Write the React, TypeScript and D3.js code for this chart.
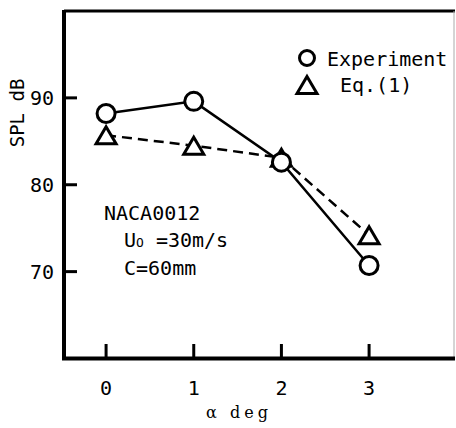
import * as d3 from 'd3'

// angle of attack, deg
const alphas = [0, 1, 2, 3]
// measured SPL, dB
const experiment = [88.2, 89.6, 82.6, 70.7]
// predicted SPL from Eq.(1), dB
const equation = [85.7, 84.5, 83.1, 74.2]
const yTicks = [70, 80, 90]
const xTicks = [0, 1, 2, 3]

const W = 456
const H = 428
const mono = '"DejaVu Sans Mono", monospace'

const App = () => {
  const x = d3.scaleLinear().domain([-0.48, 3.98]).range([64, 455])
  const y = d3.scaleLinear().domain([60, 100]).range([358.5, 11])

  const line = d3.line<[number, number]>()
    .x(d => x(d[0]))
    .y(d => y(d[1]))

  const expPts: [number, number][] = alphas.map((a, i) => [a, experiment[i]])
  const eqPts: [number, number][] = alphas.map((a, i) => [a, equation[i]])

  const tri = (cx: number, cy: number) =>
    `M${cx},${cy - 8.5}L${cx + 10},${cy + 8.5}L${cx - 10},${cy + 8.5}Z`

  return (
    <svg width={W} height={H} style={{ position: 'absolute', left: 0, top: 0, background: '#fff' }}>
      {/* frame */}
      <line x1={64} x2={455} y1={11} y2={11} stroke='#000' strokeWidth={3} />
      <line x1={454} x2={454} y1={11} y2={358} stroke='#aaa' strokeWidth={1} />
      <line x1={64} x2={64} y1={10} y2={360} stroke='#000' strokeWidth={4} />
      <line x1={62} x2={455} y1={358.5} y2={358.5} stroke='#000' strokeWidth={4} />

      {/* y ticks */}
      {yTicks.map(t => (
        <g key={'y' + t}>
          <line x1={64} x2={77} y1={y(t)} y2={y(t)} stroke='#000' strokeWidth={3} />
          <text x={54} y={y(t) + 7} textAnchor='end' fontFamily={mono} fontSize={20}>{t}</text>
        </g>
      ))}
      {/* x ticks */}
      {xTicks.map(t => (
        <g key={'x' + t}>
          <line x1={x(t)} x2={x(t)} y1={358} y2={344} stroke='#000' strokeWidth={3} />
          <text x={x(t)} y={395} textAnchor='middle' fontFamily={mono} fontSize={20}>{t}</text>
        </g>
      ))}

      <text transform='translate(24,113) rotate(-90)' textAnchor='middle' fontFamily={mono} fontSize={19}>SPL  dB</text>
      <text x={239} y={418} textAnchor='middle' fontFamily='"DejaVu Serif", serif' fontSize={16} letterSpacing={4}>α deg</text>

      {/* series */}
      <path d={line(eqPts) ?? ''} fill='none' stroke='#000' strokeWidth={2.5} strokeDasharray='10,6' />
      <path d={line(expPts) ?? ''} fill='none' stroke='#000' strokeWidth={2.5} />
      {eqPts.map((p, i) => (
        <path key={'t' + i} d={tri(x(p[0]), y(p[1]))} fill='#fff' stroke='#000' strokeWidth={3} strokeLinejoin='miter' />
      ))}
      {expPts.map((p, i) => (
        <circle key={'c' + i} cx={x(p[0])} cy={y(p[1])} r={9} fill='#fff' stroke='#000' strokeWidth={3} />
      ))}

      {/* legend */}
      <circle cx={307} cy={58} r={7.5} fill='#fff' stroke='#000' strokeWidth={3} />
      <text x={327} y={66} fontFamily={mono} fontSize={20}>Experiment</text>
      <path d={tri(307, 85)} fill='#fff' stroke='#000' strokeWidth={3} />
      <text x={340} y={92} fontFamily={mono} fontSize={20}>Eq.(1)</text>

      {/* annotation */}
      <text x={104} y={220} fontFamily={mono} fontSize={20}>NACA0012</text>
      <text x={124} y={247} fontFamily={mono} fontSize={20}>
        U<tspan fontSize={13}>O</tspan> =30m/s
      </text>
      <text x={124} y={275} fontFamily={mono} fontSize={20}>C=60mm</text>
    </svg>
  )
}

export default App
